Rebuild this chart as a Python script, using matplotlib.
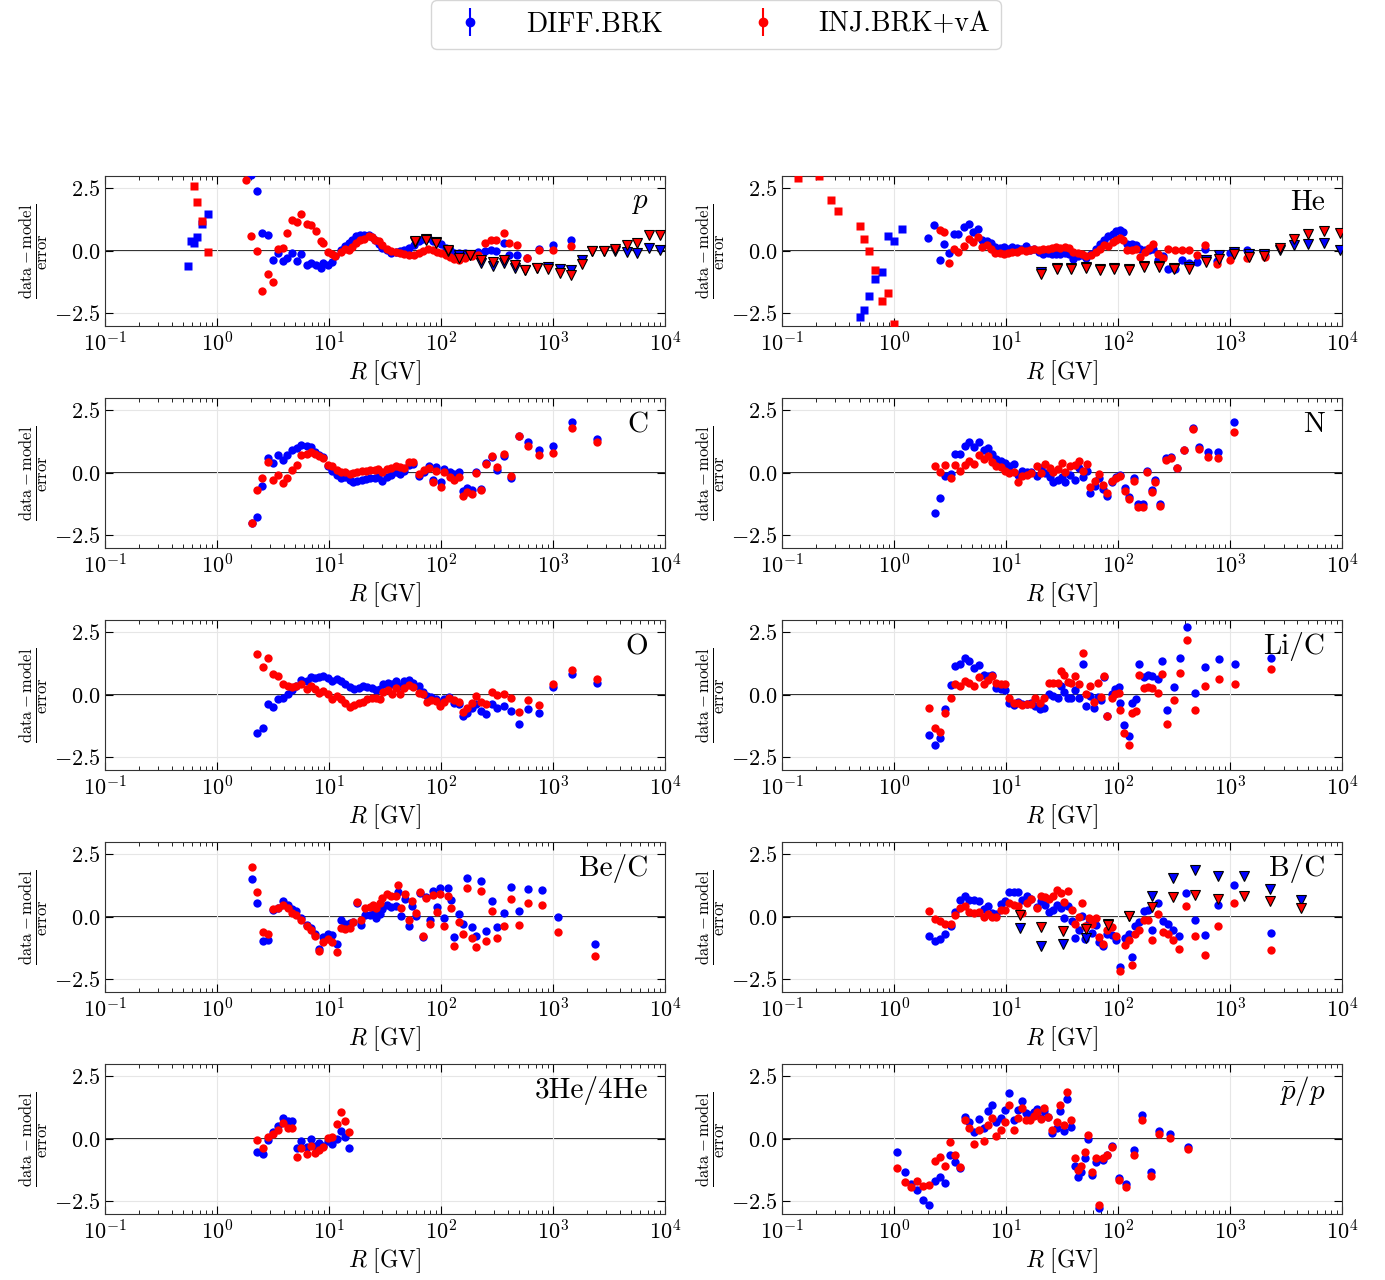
import numpy as np
import matplotlib
matplotlib.use('Agg')
from matplotlib import pyplot as plt

plt.rcParams['font.family'] = 'serif'
plt.rcParams['font.serif'] = ['cmr10', 'DejaVu Serif']
plt.rcParams['mathtext.fontset'] = 'cm'
plt.rcParams['axes.formatter.use_mathtext'] = True

nan = np.nan

# ---- p ----
p_R = [1.82, 2.0, 2.28, 2.52, 2.85, 3.15, 3.5, 3.9, 4.2, 4.67, 5.2, 5.6, 6.3, 6.9, 7.6, 8.4, 8.9, 9.8, 10.7, 11.4,
       12.9, 13.8, 15, 16.1, 17.6, 19, 20.7, 22.6, 24, 25.8, 28, 30, 33, 36, 39.4, 43, 47, 52, 57, 63,
       69, 77, 85, 92, 100, 110, 120, 132, 144, 165, 190, 215, 247, 277, 309, 362, 407, 480, 590, 743, 995, 1450]
p_blue = [3.4, 3.03, 2.39, 0.72, 0.65, -0.35, -0.08, -0.4, -0.27, -0.08, -0.41, -0.13, -0.55, -0.48, -0.55, -0.68,
          -0.48, -0.57, -0.44, -0.21, 0.03, 0.19, 0.32, 0.43, 0.61, 0.63, 0.64, 0.65, 0.56, 0.43, 0.27, 0.12, 0.03,
          -0.07, -0.04, 0, 0.03, 0.13, 0.23, 0.4, 0.49, 0.51, 0.4, 0.36, 0.27, 0.13, 0.03, -0.07, -0.1, -0.1, -0.13,
          -0.04, 0, 0.03, -0.02, 0.32, -0.17, -0.17, -0.3, 0.07, 0.25, 0.45]
p_red = [2.83, 0.58, 0.0, -1.61, -0.93, -1.24, 0.08, 0.13, 0.73, 1.23, 1.16, 1.47, 1.09, 1.04, 0.79, 0.4, 0.33,
         -0.05, -0.13, -0.21, -0.04, 0.07, 0.03, 0.16, 0.32, 0.43, 0.49, 0.59, 0.56, 0.45, 0.39, 0.23, 0.07, 0,
         -0.04, -0.08, -0.11, -0.17, -0.15, -0.1, 0, 0.07, 0.03, -0.04, -0.1, -0.17, -0.24, -0.31, -0.35, -0.27,
         -0.21, -0.17, 0.32, 0.43, 0.43, 0.73, 0.32, 0.23, -0.27, 0.03, 0.03, 0.19]
p_sq_R_blue = [0.55, 0.585, 0.62, 0.66, 0.73, 0.836]
p_sq_blue = [-0.6, 0.4, 0.32, 0.56, 1.09, 1.49]
p_sq_R_red = [0.62, 0.66, 0.73, 0.836]
p_sq_red = [2.59, 1.95, 1.2, -0.04]
p_tri_R = [59, 74, 91, 116, 144, 181, 226, 294, 363, 457, 568, 724, 910, 1150, 1440, 1820, 2250, 2830, 3560,
           4540, 5650, 7250, 9100]
p_tri_blue = [0.36, 0.47, 0.36, -0.01, -0.17, -0.17, -0.48, -0.61, -0.48, -0.67, -0.77, -0.68, -0.64, -0.71,
              -0.75, -0.35, -0.01, -0.01, -0.01, -0.04, -0.1, 0.13, 0.03]
p_tri_red = [0.4, 0.43, 0.32, 0.03, -0.27, -0.17, -0.37, -0.44, -0.37, -0.57, -0.75, -0.68, -0.71, -0.87, -0.95,
             -0.51, 0, 0, 0.09, 0.23, 0.32, 0.63, 0.63]

# ---- He ----
he_R = [2.0, 2.28, 2.57, 2.8, 3.12, 3.41, 3.73, 4.2, 4.67, 5.1, 5.6, 6.1, 6.7, 7.3, 8.0, 8.75, 9.6, 10.5, 11.4,
        12.5, 13.7, 15, 16.4, 17.9, 19.6, 21.4, 23.5, 25.7, 28, 30.6, 33.5, 36.6, 40, 43.7, 47.8, 52, 57, 63, 68.7,
        75, 82, 90, 96, 104, 110, 120, 132, 144, 158, 173, 189, 207, 226, 251, 282, 324, 372, 426, 506, 592, 757,
        995, 1420, 2040]
he_blue = [0.52, 1.05, -0.37, 0.29, -0.08, 0.69, 0.69, 0.96, 1.09, 0.76, 0.87, 0.43, 0.4, 0.32, 0.16, 0.13, 0.16,
           0.09, 0.16, 0.13, 0.09, 0.19, 0.03, 0.09, -0.04, -0.11, -0.08, -0.11, -0.13, -0.11, -0.08, -0.11, -0.31,
           -0.21, -0.17, -0.27, -0.11, 0.09, 0.29, 0.43, 0.6, 0.69, 0.79, 0.83, 0.76, 0.29, 0.27, 0.23, 0.09, 0.03,
           0.05, 0.09, -0.37, -0.21, -0.71, -0.71, -0.37, -0.48, -0.44, 0.09, -0.4, -0.08, 0.03, -0.17]
he_red = [nan, nan, 0.85, 0.76, -0.48, 0.09, -0.04, 0.19, 0.49, 0.36, 0.56, 0.16, 0.23, 0.09, -0.08, -0.08, -0.11,
          -0.08, -0.04, -0.04, 0.03, 0, 0.05, 0.09, 0.03, 0.07, 0.09, 0.13, 0.16, 0.13, 0.16, 0.13, -0.04, -0.08,
          -0.13, -0.21, -0.17, -0.04, 0.09, 0.23, 0.19, 0.36, 0.45, 0.53, 0.43, 0.03, 0.05, 0.09, -0.24, -0.04, 0.13,
          0.29, -0.11, -0.27, 0.09, 0.03, 0.03, 0.03, -0.17, 0.23, -0.51, -0.37, -0.27, -0.24]
he_sq_R_blue = [0.5, 0.54, 0.594, 0.68, 0.778, 0.89, 1.0, 1.17]
he_sq_blue = [-2.64, -2.35, -1.8, -1.13, -0.84, 0.59, 0.4, 0.87]
he_sq_R_red = [0.139, 0.212, 0.273, 0.318, 0.50, 0.54, 0.594, 0.68, 0.778, 0.89, 1.0]
he_sq_red = [2.93, 2.99, 2.05, 1.6, 0.99, 0.49, 0.0, -0.77, -2.0, -1.68, -2.93]
he_tri_R = [20.5, 28.3, 37.7, 51.4, 69, 92, 126, 170, 232, 316, 429, 604, 794, 1075, 1480, 2000, 2770, 3700, 5000,
            6900, 9600]
he_tri_blue = [-0.85, -0.68, -0.68, -0.64, -0.72, -0.7, -0.72, -0.6, -0.6, -0.68, -0.66, -0.35, -0.17, -0.04,
               -0.11, -0.11, 0.03, 0.23, 0.27, 0.32, 0.05]
he_tri_red = [-0.91, -0.71, -0.71, -0.67, -0.75, -0.72, -0.75, -0.64, -0.64, -0.71, -0.71, -0.44, -0.31, -0.11,
              -0.24, -0.21, 0.13, 0.49, 0.67, 0.8, 0.72]

# ---- C ----
c_R = [2.05, 2.28, 2.52, 2.85, 3.15, 3.5, 3.9, 4.2, 4.67, 5.2, 5.6, 6.3, 6.9, 7.5, 8.2, 8.9, 9.8, 10.7, 11.7, 12.9,
       14, 15.3, 16.5, 17.9, 19.6, 21.5, 23.4, 25.7, 27.5, 30, 33, 36, 39.4, 43, 47, 51.5, 56, 63, 70, 78, 84, 90,
       99, 106, 120, 132, 144, 158, 172, 190, 206, 226, 251, 284, 317, 362, 420, 493, 594, 743, 1010, 1480, 2450]
c_blue = [-2.0, -1.75, -0.51, 0.6, 0.39, 0.72, 0.52, 0.72, 0.93, 0.99, 1.12, 1.07, 1.03, 0.85, 0.72, 0.63, 0.27,
          0.09, -0.08, -0.21, -0.17, -0.27, -0.35, -0.31, -0.28, -0.24, -0.21, -0.21, -0.17, -0.31, -0.17, -0.08,
          0.03, -0.04, 0.09, 0.32, 0.36, -0.11, 0.03, 0.27, -0.27, 0.23, -0.37, 0.16, 0.03, -0.04, 0.03, -0.71,
          -0.61, -0.68, 0.03, -0.64, 0.39, 0.63, 0.13, 0.69, -0.21, 1.49, 1.23, 0.93, 1.07, 2.03, 1.36]
c_red = [-2.01, -0.67, -0.21, 0.45, -0.28, -0.08, -0.4, -0.21, 0.13, 0.32, 0.72, 0.76, 0.83, 0.76, 0.67, 0.59,
         0.32, 0.27, 0.13, 0.03, 0.03, -0.04, 0, 0.05, 0.09, 0.09, 0.13, 0.13, 0.16, 0.03, 0.16, 0.19, 0.29, 0.23,
         0.19, 0.43, 0.45, -0.04, 0.13, 0.19, -0.35, 0.09, -0.57, 0.03, -0.17, -0.27, -0.17, -0.91, -0.77, -0.84,
         0, -0.68, 0.36, 0.69, 0.23, 0.76, -0.13, 1.47, 1.09, 0.72, 0.79, 1.79, 1.23]

# ---- N ----
n_R = [2.3, 2.56, 2.85, 3.2, 3.5, 3.9, 4.27, 4.7, 5.15, 5.75, 6.3, 6.9, 7.5, 8.2, 9, 9.8, 10.7, 11.7, 12.9, 14,
       15.4, 16.8, 18.7, 20.5, 22.4, 24.5, 26.3, 28.8, 31.6, 33.9, 37, 41.2, 45, 48.4, 53, 56.3, 61.7, 67.5, 74, 80,
       88, 96, 105, 115, 126, 138, 151, 166, 182, 199, 215, 236, 270, 296, 339, 389, 466, 530, 635, 780, 1080]
n_blue = [-1.6, -1.01, -0.11, -0.04, 0.76, 0.76, 1.07, 1.23, 1.03, 1.23, 0.93, 0.99, 0.76, 0.56, 0.49, 0.4, 0.29,
          0.36, -0.08, 0.09, 0.03, 0.03, -0.13, 0.19, 0, -0.17, -0.35, -0.27, -0.17, -0.35, -0.08, -0.27, 0.19,
          -0.17, 0.09, -0.8, -0.53, -0.21, -0.64, -0.91, -0.37, -0.17, -0.08, -0.61, -0.97, -0.21, -1.24, -1.24,
          0.09, -0.67, -0.27, -1.24, 0.59, 0.63, 0.19, 0.93, 1.79, 1.03, 0.83, 0.85, 2.03]
n_red = [0.27, 0.05, 0.32, -0.21, 0.32, 0.09, 0.32, 0.49, 0.36, 0.72, 0.56, 0.67, 0.45, 0.27, 0.23, 0.09, 0, 0.05,
         -0.37, -0.11, -0.08, 0, 0.27, 0, 0.36, 0.19, 0.03, 0.16, 0.4, 0.05, 0.29, 0.32, 0.49, 0.09, 0.36, -0.57,
         -0.31, -0.04, -0.48, -0.8, -0.31, -0.21, -0.11, -0.71, -1.04, -0.31, -1.37, -1.37, 0.03, -0.77, -0.35,
         -1.31, 0.53, 0.59, 0.19, 0.93, 1.76, 0.96, 0.63, 0.59, 1.63]

# ---- O ----
o_R = [2.28, 2.56, 2.85, 3.15, 3.5, 3.9, 4.27, 4.67, 5.1, 5.6, 6.3, 6.9, 7.5, 8.2, 8.9, 9.8, 10.7, 11.7, 12.9, 14,
       15.3, 16.8, 18.4, 20.2, 22, 24, 26.3, 28.7, 30.6, 33.5, 36.6, 39.4, 43, 47, 51.5, 56, 63, 69, 75.5, 82, 90,
       98, 107, 117, 132, 144, 158, 172, 190, 206, 226, 251, 284, 317, 362, 420, 493, 594, 743, 1010, 1480, 2450]
o_blue = [-1.53, -1.31, -0.37, -0.48, -0.17, -0.11, 0.03, 0.19, 0.36, 0.59, 0.56, 0.72, 0.69, 0.72, 0.76, 0.67,
          0.56, 0.63, 0.56, 0.43, 0.32, 0.23, 0.29, 0.36, 0.32, 0.27, 0.19, 0.23, 0.43, 0.49, 0.43, 0.56, 0.36, 0.56,
          0.59, 0.49, 0.36, 0.13, -0.04, -0.08, -0.17, -0.31, -0.17, -0.08, -0.31, -0.35, -0.84, -0.71, -0.51,
          -0.35, -0.64, -0.77, -0.35, -0.53, -0.44, -0.64, -1.15, -0.57, -0.71, 0.32, 0.85, 0.49]
o_red = [1.63, 1.12, 1.49, 0.83, 0.76, 0.43, 0.36, 0.32, 0.36, 0.45, 0.23, 0.36, 0.23, 0.09, 0.16, 0.05, -0.17,
         -0.04, -0.17, -0.31, -0.48, -0.4, -0.31, -0.27, -0.17, -0.13, -0.13, -0.17, 0.13, 0.19, 0.03, 0.29, 0.05,
         0.27, 0.4, 0.32, 0.09, 0.05, -0.27, -0.21, -0.24, -0.44, -0.27, -0.13, -0.21, -0.27, -0.67, -0.51, -0.31,
         -0.04, -0.27, -0.35, 0.13, 0, 0.05, -0.11, -0.67, -0.21, -0.4, 0.45, 0.99, 0.63]

# ---- Li/C ----
li_R = [2.05, 2.3, 2.56, 2.85, 3.2, 3.5, 3.9, 4.27, 4.7, 5.15, 5.75, 6.3, 6.9, 7.5, 8.2, 9, 9.8, 10.7, 11.7, 12.9,
        14, 15.4, 16.8, 18.3, 20, 22, 24, 26.3, 28.8, 31, 33, 35.5, 37.7, 41.2, 45, 48.4, 51.5, 56.3, 60.6, 65.6,
        70, 75, 80, 88, 94, 101, 105, 113, 124, 132, 144, 155, 172, 184, 202, 226, 246, 275, 317, 360, 416, 484,
        602, 790, 1110, 2300]
li_blue = [-1.6, -2.01, -1.71, -0.57, 0.4, 1.16, 1.25, 1.47, 1.36, 1.09, 1.2, 0.8, 0.76, 0.8, 0.27, 0.23, 0.19,
           -0.31, -0.4, -0.27, -0.37, -0.35, -0.31, -0.44, -0.57, -0.51, 0.03, -0.04, -0.11, 0.36, 0.13, -0.11,
           -0.11, 0.19, -0.11, 1.23, -0.44, -0.04, -0.53, -0.08, -0.21, 0.72, -0.84, 0.05, 0.23, 0.32, -0.31, -1.2,
           -1.64, -0.31, -0.17, 1.25, 0.72, 0.8, 0.76, 0.63, 1.36, -0.61, 0.32, 1.47, 2.73, 0.09, 1.12, 1.43, 1.25,
           1.49]
li_red = [-0.51, -1.31, -1.47, -0.71, -0.11, 0.45, 0.36, 0.56, 0.49, 0.36, 0.72, 0.43, 0.59, 0.76, 0.49, 0.43,
          0.43, -0.11, -0.31, -0.31, -0.4, -0.35, -0.35, -0.11, -0.31, -0.11, 0.49, 0.49, 0.49, 0.96, 0.8, 0.53,
          0.49, 0.76, 0.43, 1.69, 0.03, 0.36, -0.27, 0.49, -0.08, 0.76, -0.84, -0.13, 0.03, 0.09, -0.61, -1.51, -2.0,
          -0.71, -0.64, 0.8, 0.27, 0.32, 0.27, 0.09, 0.83, -1.17, -0.21, 0.89, 2.19, -0.61, 0.36, 0.63, 0.43, 1.03]

# ---- Be/C ----
be_R = [2.05, 2.28, 2.56, 2.85, 3.15, 3.5, 3.9, 4.27, 4.67, 5.1, 5.6, 6.3, 6.9, 7.5, 8.2, 8.9, 9.8, 10.7, 11.7,
        12.9, 14, 15.3, 16.5, 17.9, 19.4, 21.1, 23, 24.7, 26.3, 28.3, 30, 33, 36, 39.4, 41.2, 43.6, 47.9, 51.5, 55,
        60, 64.6, 69, 73.7, 79, 84, 92, 98, 106, 116, 124, 132, 144, 158, 170, 190, 206, 226, 251, 284, 317, 362,
        420, 493, 600, 790, 1110, 2350]
be_blue = [1.53, 0.56, -0.97, -0.93, 0.27, 0.36, 0.63, 0.49, 0.32, 0.23, -0.04, -0.31, -0.44, -0.67, -1.28, -0.8,
           -0.67, -0.71, -1.07, -0.11, -0.27, -0.24, -0.21, 0.56, -0.31, 0.09, 0.09, 0.13, -0.04, 0.13, 0.32, 0.49,
           0.4, 0.45, 0.99, 0.03, 0.72, -0.35, 0.45, 0.03, 0.96, -0.8, 0.8, -0.11, 1.03, 0.4, 1.16, -0.04, 1.16,
           0.69, -0.8, 0.13, -0.27, 1.56, -0.4, -0.77, 1.43, -0.57, 0.63, -0.4, 0.16, 1.2, 0.23, 1.12, 1.07, 0,
           -1.07]
be_red = [2.0, 0.99, -0.61, -0.67, 0.32, 0.36, 0.49, 0.36, 0.16, 0.09, -0.11, -0.37, -0.53, -0.75, -1.37, -1.01,
          -0.88, -1.01, -1.41, -0.44, -0.48, -0.44, -0.21, 0.59, -0.11, 0.36, 0.4, 0.49, 0.36, 0.56, 0.76, 0.93,
          0.83, 0.83, 1.29, 0.36, 0.93, -0.11, 0.63, 0.16, 0.99, -0.75, 0.76, -0.27, 0.89, 0.19, 0.93, -0.35, 0.85,
          0.36, -1.17, -0.21, -0.67, 1.16, -0.84, -1.2, 1.03, -0.97, 0.23, -0.84, -0.35, 0.72, -0.31, 0.56, 0.49,
          -0.61, -1.55]

# ---- B/C ----
bc_R = [2.05, 2.3, 2.56, 2.85, 3.2, 3.5, 3.9, 4.27, 4.7, 5.15, 5.75, 6.3, 6.9, 7.5, 8.2, 9, 9.8, 10.7, 11.7, 12.9,
        14, 15.4, 16.8, 18.7, 20.5, 22.4, 24, 26, 28.3, 31, 33, 35.5, 38.5, 41.2, 44.5, 47.3, 50.8, 55, 59, 63, 68,
        74, 80, 88, 96, 105, 115, 124, 132, 141, 155, 169, 184, 202, 226, 251, 282, 309, 353, 405, 484, 602, 780,
        1080, 2300]
bc_blue = [-0.77, -0.97, -0.88, -0.67, -0.35, 0.19, 0.69, 0.85, 0.69, 0.69, 0.63, 0.32, 0.43, 0.16, 0.13, 0.53,
           0.63, 0.99, 0.99, 0.99, 0.69, 0.85, 0.72, 0.4, 0.63, 0.49, 0.19, 0.27, 0.49, 0.36, -0.04, 0.45, -0.17,
           -0.84, -0.53, 0.05, -0.88, -0.24, -0.64, -0.31, -1.01, -1.15, -0.67, -0.71, -0.93, -2.0, -0.84, -0.67,
           -1.6, -0.35, -0.21, 0.23, 0.27, -0.51, 0.56, -0.17, -0.27, -0.53, -0.75, 0.96, -0.11, -0.71, 0.49, 1.29,
           -0.64]
bc_red = [0.23, -0.08, -0.17, -0.27, -0.27, 0.09, 0.36, 0.43, 0.19, 0.16, 0.19, 0, 0.13, 0, 0, 0.27, 0.27, 0.56,
          0.49, 0.43, 0.16, 0.56, 0.72, 0.36, 0.85, 0.8, 0.72, 0.85, 1.09, 0.96, 0.59, 1.03, 0.27, -0.27, 0, 0.56,
          -0.35, -0.04, -0.27, -0.04, -0.8, -1.07, -0.53, -0.4, -0.75, -2.17, -1.11, -0.93, -1.91, -0.67, -0.51,
          -0.11, -0.13, -0.93, 0.13, -0.61, -0.67, -0.93, -1.28, 0.43, -0.75, -1.51, -0.35, 0.56, -1.31]
bc_tri_R = [13.4, 20.5, 32, 51.5, 80.7, 126, 199, 309, 484, 776, 1320, 2290, 4270]
bc_tri_blue = [-0.44, -1.17, -1.07, -0.84, -0.27, 0.05, 0.83, 1.56, 1.89, 1.63, 1.63, 1.12, 0.67]
bc_tri_red = [0.09, -0.4, -0.57, -0.48, -0.31, 0.03, 0.4, 0.8, 0.89, 0.72, 0.85, 0.63, 0.36]

# ---- 3He/4He ----
he3_R = [2.28, 2.56, 2.85, 3.15, 3.5, 3.9, 4.27, 4.67, 5.2, 5.6, 6.3, 6.9, 7.5, 8.2, 8.9, 9.8, 10.7, 11.7, 12.9,
         13.8, 15]
he3_blue = [-0.53, -0.6, -0.04, 0.27, 0.53, 0.85, 0.72, 0.72, -0.37, -0.08, -0.31, 0, -0.27, -0.17, -0.27, -0.08,
            -0.21, 0, 0.32, 0.09, -0.35]
he3_red = [-0.04, -0.35, 0.09, 0.19, 0.36, 0.63, 0.43, 0.45, -0.71, -0.35, -0.61, -0.27, -0.57, -0.44, -0.31, 0.03,
           0.09, 0.59, 1.09, 0.72, 0.27]

# ---- pbar/p ----
pb_R = [1.07, 1.25, 1.43, 1.61, 1.82, 2.05, 2.3, 2.56, 2.85, 3.15, 3.5, 3.9, 4.27, 4.7, 5.15, 5.75, 6.3, 6.9, 7.5,
        8.2, 9, 9.8, 10.7, 11.7, 12.9, 13.8, 15, 16.2, 17.6, 18.9, 20.4, 22, 23.5, 25.7, 28.3, 30.3, 32.6, 35, 37.7,
        41.2, 44.3, 47.1, 50.6, 53.9, 59, 63, 67.5, 74, 79.4, 88, 103, 118, 138, 162, 195, 233, 290, 425]
pb_blue = [-0.53, -1.31, -1.81, -2.04, -2.44, -2.64, -1.68, -1.51, -1.77, -0.64, -0.91, -1.15, 0.89, 0.69, 0.27,
           0.8, 0.43, 1.12, 1.36, 0.69, 0.85, 1.16, 1.83, 0.76, 1.16, 1.52, 1.03, 0.96, 1.07, 1.2, 0.85, 1.1, 0.89,
           0.23, 0.45, 1.12, 0.32, 1.6, 0.49, -1.07, -1.51, -1.31, -0.75, 0, -1.44, -0.93, -2.77, -0.84, -0.64,
           -0.27, -1.55, -1.81, -0.44, 0.96, -1.31, 0.32, 0.19, -0.31]
pb_red = [-1.17, -1.73, -1.91, -1.68, -1.87, -1.84, -0.88, -0.71, -1.07, -0.11, -0.64, -1.11, 0.76, 0.43, -0.21,
          0.36, -0.08, 0.56, 0.85, 0.13, 0.36, 0.67, 1.36, 0.36, 0.85, 1.25, 0.76, 0.76, 0.93, 1.09, 0.8, 1.25, 0.89,
          0.36, 0.69, 1.36, 0.56, 1.87, 0.76, -0.77, -1.24, -1.07, -0.53, 0.16, -1.31, -0.77, -2.64, -0.75, -0.64,
          -0.31, -1.64, -1.91, -0.64, 0.76, -1.47, 0.19, 0.05, -0.4]

labels = ['DIFF.BRK', 'INJ.BRK+vA']
colors = ['blue', 'red']

panels = [
    (r'$p$', (p_R, p_blue, p_red), (p_sq_R_blue, p_sq_blue, p_sq_R_red, p_sq_red), (p_tri_R, p_tri_blue, p_tri_red)),
    ('He', (he_R, he_blue, he_red), (he_sq_R_blue, he_sq_blue, he_sq_R_red, he_sq_red), (he_tri_R, he_tri_blue, he_tri_red)),
    ('C', (c_R, c_blue, c_red), None, None),
    ('N', (n_R, n_blue, n_red), None, None),
    ('O', (o_R, o_blue, o_red), None, None),
    ('Li/C', (li_R, li_blue, li_red), None, None),
    ('Be/C', (be_R, be_blue, be_red), None, None),
    ('B/C', (bc_R, bc_blue, bc_red), None, (bc_tri_R, bc_tri_blue, bc_tri_red)),
    ('3He/4He', (he3_R, he3_blue, he3_red), None, None),
    (r'$\bar{p}/p$', (pb_R, pb_blue, pb_red), None, None),
]

fig, axes = plt.subplots(5, 2, figsize=(13.85, 12.8), dpi=100)
fig.subplots_adjust(left=0.0758, right=0.969, top=0.8625, bottom=0.0516, hspace=0.48, wspace=0.209)

for ax, (name, circ, sq, tri) in zip(axes.flat, panels):
    ax.axhline(0, color='black', lw=1.2, zorder=1)
    R, yb, yr = circ
    ax.plot(R, yb, 'o', color=colors[0], ms=6, mec='none', zorder=3)
    ax.plot(R, yr, 'o', color=colors[1], ms=6, mec='none', zorder=4)
    if sq is not None:
        ax.plot(sq[0], sq[1], 's', color=colors[0], ms=6, mec='none', zorder=3)
        ax.plot(sq[2], sq[3], 's', color=colors[1], ms=6, mec='none', zorder=4)
    if tri is not None:
        ax.plot(tri[0], tri[1], 'v', color=colors[0], ms=7, mec='black', mew=0.8, zorder=5)
        ax.plot(tri[0], tri[2], 'v', color=colors[1], ms=7, mec='black', mew=0.8, zorder=6)

    ax.set_xscale('log')
    ax.set_xlim(0.1, 1e4)
    ax.set_ylim(-3, 3)
    ax.set_yticks([-2.5, 0, 2.5])
    ax.grid(True, which='major', color='#e6e6e6', lw=0.8, zorder=0)
    ax.tick_params(which='both', direction='in', top=True, right=True, labelsize=16)
    ax.tick_params(which='major', length=6)
    ax.tick_params(which='minor', length=3)
    ax.set_xlabel(r'$R\ [\mathrm{GV}]$', fontsize=17, labelpad=2)
    ax.set_ylabel(r'$\frac{\mathrm{data-model}}{\mathrm{error}}$', fontsize=17, labelpad=2)
    ax.text(0.97, 0.82, name, transform=ax.transAxes, ha='right', va='center', fontsize=21)
    for s in ax.spines.values():
        s.set_color('#333333')

handles = [axes[0, 0].errorbar([nan], [nan], yerr=[nan], fmt='o', color=c, ms=6) for c in colors]
fig.legend(handles, labels, loc='upper center', bbox_to_anchor=(0.517, 1.0), ncol=2, fontsize=20,
           handletextpad=1.0, columnspacing=2.6, borderpad=0.4, borderaxespad=0.0, fancybox=True,
           edgecolor='#cccccc')

plt.savefig('out.png', dpi=100)
